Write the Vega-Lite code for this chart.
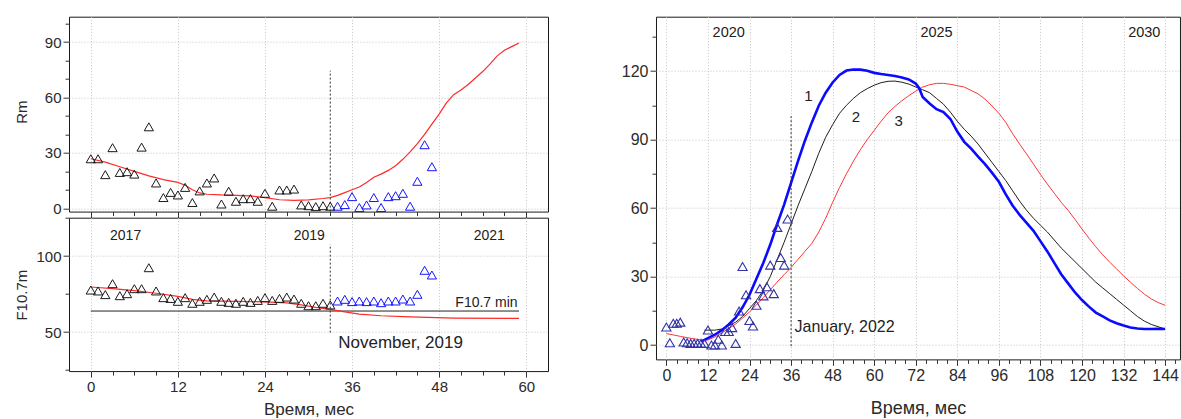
{
  "$schema": "https://vega.github.io/schema/vega-lite/v6.json",
  "padding": {"left": 14, "top": 15.7, "right": 2, "bottom": 2},
  "config": {
    "font": "Liberation Sans",
    "view": {"stroke": "#1a1a1a", "strokeWidth": 1},
    "axis": {
      "domain": false,
      "labelFont": "Liberation Sans",
      "labelColor": "#2b2b2b",
      "labelFontSize": 15,
      "labelPadding": 2,
      "titleFont": "Liberation Sans",
      "titleFontWeight": "normal",
      "titleColor": "#2b2b2b",
      "titleFontSize": 15,
      "tickColor": "#333333",
      "tickWidth": 1,
      "gridColor": "#c4c4c4",
      "gridDash": [1, 2],
      "gridWidth": 1,
      "labelOverlap": false,
      "labelFlush": false,
      "labelBound": false
    },
    "text": {"font": "Liberation Sans", "color": "#222222"}
  },
  "datasets": {
    "rmObs": [
      {"m": 0, "v": 26.8, "grp": "past"}, {"m": 1, "v": 26.8, "grp": "past"}, {"m": 2, "v": 18.2, "grp": "past"},
      {"m": 3, "v": 32.8, "grp": "past"}, {"m": 4, "v": 19.4, "grp": "past"}, {"m": 5, "v": 19.8, "grp": "past"},
      {"m": 6, "v": 18.5, "grp": "past"}, {"m": 7, "v": 33.1, "grp": "past"}, {"m": 8, "v": 44.1, "grp": "past"},
      {"m": 9, "v": 13.7, "grp": "past"}, {"m": 10, "v": 5.8, "grp": "past"}, {"m": 11, "v": 8.6, "grp": "past"},
      {"m": 12, "v": 7.2, "grp": "past"}, {"m": 13, "v": 11.3, "grp": "past"}, {"m": 14, "v": 3.1, "grp": "past"},
      {"m": 15, "v": 9.4, "grp": "past"}, {"m": 16, "v": 13.7, "grp": "past"}, {"m": 17, "v": 16.4, "grp": "past"},
      {"m": 18, "v": 2.3, "grp": "past"}, {"m": 19, "v": 9.2, "grp": "past"}, {"m": 20, "v": 3.8, "grp": "past"},
      {"m": 21, "v": 5.2, "grp": "past"}, {"m": 22, "v": 5.2, "grp": "past"}, {"m": 23, "v": 3.8, "grp": "past"},
      {"m": 24, "v": 8.1, "grp": "past"}, {"m": 25, "v": 1.1, "grp": "past"}, {"m": 26, "v": 9.9, "grp": "past"},
      {"m": 27, "v": 9.9, "grp": "past"}, {"m": 28, "v": 10.4, "grp": "past"}, {"m": 29, "v": 1.8, "grp": "past"},
      {"m": 30, "v": 1.4, "grp": "past"}, {"m": 31, "v": 0.9, "grp": "past"}, {"m": 32, "v": 1.4, "grp": "past"},
      {"m": 33, "v": 1.1, "grp": "past"},
      {"m": 34, "v": 1.1, "grp": "new"}, {"m": 35, "v": 2.0, "grp": "new"}, {"m": 36, "v": 6.3, "grp": "new"},
      {"m": 37, "v": 0.4, "grp": "new"}, {"m": 38, "v": 1.8, "grp": "new"}, {"m": 39, "v": 5.8, "grp": "new"},
      {"m": 40, "v": 0.4, "grp": "new"}, {"m": 41, "v": 6.3, "grp": "new"}, {"m": 42, "v": 6.8, "grp": "new"},
      {"m": 43, "v": 8.1, "grp": "new"}, {"m": 44, "v": 1.1, "grp": "new"}, {"m": 45, "v": 14.6, "grp": "new"},
      {"m": 46, "v": 34.4, "grp": "new"}, {"m": 47, "v": 22.5, "grp": "new"}
    ],
    "rmFit": [
      {"m": 0, "v": 26.8}, {"m": 2, "v": 25.0}, {"m": 4, "v": 22.5}, {"m": 6, "v": 20.0}, {"m": 8, "v": 17.5},
      {"m": 10, "v": 15.5}, {"m": 12, "v": 14.0}, {"m": 13, "v": 12.5}, {"m": 14, "v": 10.0}, {"m": 15, "v": 8.3},
      {"m": 16, "v": 7.6}, {"m": 18, "v": 7.2}, {"m": 20, "v": 7.0}, {"m": 22, "v": 6.7}, {"m": 24, "v": 5.8},
      {"m": 26, "v": 4.6}, {"m": 28, "v": 4.3}, {"m": 30, "v": 4.5}, {"m": 32, "v": 5.3}, {"m": 33, "v": 5.8},
      {"m": 34, "v": 7.0}, {"m": 35, "v": 8.5}, {"m": 36, "v": 10.0}, {"m": 37, "v": 11.5}, {"m": 38, "v": 14.0},
      {"m": 39, "v": 16.8}, {"m": 40, "v": 18.5}, {"m": 41, "v": 20.5}, {"m": 42, "v": 23.0}, {"m": 43, "v": 26.5},
      {"m": 44, "v": 30.5}, {"m": 45, "v": 35.0}, {"m": 46, "v": 40.0}, {"m": 47, "v": 45.5}, {"m": 48, "v": 51.0},
      {"m": 49, "v": 57.0}, {"m": 50, "v": 61.5}, {"m": 51, "v": 64.0}, {"m": 52, "v": 67.0}, {"m": 53, "v": 70.5},
      {"m": 54, "v": 74.0}, {"m": 55, "v": 78.0}, {"m": 56, "v": 82.5}, {"m": 57, "v": 85.5}, {"m": 58, "v": 87.5},
      {"m": 59, "v": 89.5}
    ],
    "rmMarks": [{"m": 33, "v": -1.8, "v2": 74.5}],
    "fObs": [
      {"m": 0, "v": 77.6, "grp": "past"}, {"m": 1, "v": 77.0, "grp": "past"}, {"m": 2, "v": 74.6, "grp": "past"},
      {"m": 3, "v": 81.8, "grp": "past"}, {"m": 4, "v": 73.9, "grp": "past"}, {"m": 5, "v": 75.2, "grp": "past"},
      {"m": 6, "v": 78.5, "grp": "past"}, {"m": 7, "v": 78.5, "grp": "past"}, {"m": 8, "v": 92.3, "grp": "past"},
      {"m": 9, "v": 77.0, "grp": "past"}, {"m": 10, "v": 72.6, "grp": "past"}, {"m": 11, "v": 72.1, "grp": "past"},
      {"m": 12, "v": 70.2, "grp": "past"}, {"m": 13, "v": 72.6, "grp": "past"}, {"m": 14, "v": 68.9, "grp": "past"},
      {"m": 15, "v": 70.2, "grp": "past"}, {"m": 16, "v": 71.5, "grp": "past"}, {"m": 17, "v": 73.0, "grp": "past"},
      {"m": 18, "v": 70.2, "grp": "past"}, {"m": 19, "v": 69.5, "grp": "past"}, {"m": 20, "v": 68.9, "grp": "past"},
      {"m": 21, "v": 70.2, "grp": "past"}, {"m": 22, "v": 69.5, "grp": "past"}, {"m": 23, "v": 70.8, "grp": "past"},
      {"m": 24, "v": 72.6, "grp": "past"}, {"m": 25, "v": 70.8, "grp": "past"}, {"m": 26, "v": 72.1, "grp": "past"},
      {"m": 27, "v": 73.0, "grp": "past"}, {"m": 28, "v": 71.7, "grp": "past"}, {"m": 29, "v": 68.9, "grp": "past"},
      {"m": 30, "v": 67.3, "grp": "past"}, {"m": 31, "v": 67.3, "grp": "past"}, {"m": 32, "v": 68.9, "grp": "past"},
      {"m": 33, "v": 67.8, "grp": "past"},
      {"m": 34, "v": 70.4, "grp": "new"}, {"m": 35, "v": 71.5, "grp": "new"}, {"m": 36, "v": 70.0, "grp": "new"},
      {"m": 37, "v": 70.4, "grp": "new"}, {"m": 38, "v": 70.0, "grp": "new"}, {"m": 39, "v": 70.4, "grp": "new"},
      {"m": 40, "v": 69.3, "grp": "new"}, {"m": 41, "v": 70.4, "grp": "new"}, {"m": 42, "v": 70.4, "grp": "new"},
      {"m": 43, "v": 71.7, "grp": "new"}, {"m": 44, "v": 70.4, "grp": "new"}, {"m": 45, "v": 74.8, "grp": "new"},
      {"m": 46, "v": 90.6, "grp": "new"}, {"m": 47, "v": 87.5, "grp": "new"}
    ],
    "fFit": [
      {"m": 0, "v": 79.6}, {"m": 3, "v": 78.5}, {"m": 6, "v": 77.2}, {"m": 9, "v": 75.5}, {"m": 12, "v": 73.5},
      {"m": 14, "v": 71.5}, {"m": 16, "v": 70.5}, {"m": 20, "v": 70.2}, {"m": 24, "v": 69.8}, {"m": 27, "v": 69.2},
      {"m": 29, "v": 67.8}, {"m": 31, "v": 66.2}, {"m": 33, "v": 64.9}, {"m": 35, "v": 63.2}, {"m": 37, "v": 61.8},
      {"m": 40, "v": 60.7}, {"m": 44, "v": 59.9}, {"m": 50, "v": 59.2}, {"m": 59, "v": 59.0}
    ],
    "fMin": [{"m": 0, "m2": 59, "v": 63.8}],
    "fDash": [{"m": 33, "v": 49.6, "v2": 107.7}],
    "fYears": [
      {"m": 4.8, "v": 113.2, "label": "2017"},
      {"m": 30.1, "v": 113.2, "label": "2019"},
      {"m": 54.9, "v": 113.2, "label": "2021"}
    ],
    "fMinLabel": [{"m": 58.8, "v": 68.9, "label": "F10.7 min"}],
    "fNote": [{"m": 34.1, "v": 43, "label": "November, 2019"}],
    "cycle": [
      {"curve": "3", "m": 0, "v": 5.0}, {"curve": "3", "m": 2, "v": 4.4}, {"curve": "3", "m": 4, "v": 3.8},
      {"curve": "3", "m": 6, "v": 3.2}, {"curve": "3", "m": 8, "v": 2.7}, {"curve": "3", "m": 10, "v": 2.2},
      {"curve": "3", "m": 12, "v": 2.2}, {"curve": "3", "m": 14, "v": 3.5}, {"curve": "3", "m": 16, "v": 5.3},
      {"curve": "3", "m": 18, "v": 7.2}, {"curve": "3", "m": 20, "v": 9.2}, {"curve": "3", "m": 22, "v": 11.8},
      {"curve": "3", "m": 24, "v": 14.5}, {"curve": "3", "m": 26, "v": 17.5}, {"curve": "3", "m": 28, "v": 20.8},
      {"curve": "3", "m": 30, "v": 24.2}, {"curve": "3", "m": 32, "v": 27.6}, {"curve": "3", "m": 34, "v": 30.8},
      {"curve": "3", "m": 36, "v": 34.0}, {"curve": "3", "m": 38, "v": 37.5}, {"curve": "3", "m": 40, "v": 41.0},
      {"curve": "3", "m": 42, "v": 44.5}, {"curve": "3", "m": 44, "v": 49.5}, {"curve": "3", "m": 46, "v": 55.5},
      {"curve": "3", "m": 48, "v": 62.5}, {"curve": "3", "m": 50, "v": 69.0}, {"curve": "3", "m": 52, "v": 75.0},
      {"curve": "3", "m": 54, "v": 80.5}, {"curve": "3", "m": 56, "v": 85.5}, {"curve": "3", "m": 58, "v": 90.0},
      {"curve": "3", "m": 60, "v": 94.0}, {"curve": "3", "m": 62, "v": 98.0}, {"curve": "3", "m": 64, "v": 101.7},
      {"curve": "3", "m": 66, "v": 104.5}, {"curve": "3", "m": 68, "v": 107.0}, {"curve": "3", "m": 70, "v": 109.2},
      {"curve": "3", "m": 72, "v": 111.2}, {"curve": "3", "m": 74, "v": 113.0}, {"curve": "3", "m": 76, "v": 114.0},
      {"curve": "3", "m": 78, "v": 114.6}, {"curve": "3", "m": 80, "v": 114.6}, {"curve": "3", "m": 82, "v": 114.2},
      {"curve": "3", "m": 84, "v": 113.6}, {"curve": "3", "m": 86, "v": 113.0}, {"curve": "3", "m": 88, "v": 111.5},
      {"curve": "3", "m": 90, "v": 110.0}, {"curve": "3", "m": 92, "v": 107.7}, {"curve": "3", "m": 94, "v": 104.7},
      {"curve": "3", "m": 96, "v": 101.5}, {"curve": "3", "m": 98, "v": 97.5}, {"curve": "3", "m": 100, "v": 92.5},
      {"curve": "3", "m": 102, "v": 88.0}, {"curve": "3", "m": 104, "v": 83.7}, {"curve": "3", "m": 106, "v": 79.2},
      {"curve": "3", "m": 108, "v": 74.7}, {"curve": "3", "m": 110, "v": 70.5}, {"curve": "3", "m": 112, "v": 66.5},
      {"curve": "3", "m": 114, "v": 62.5}, {"curve": "3", "m": 116, "v": 59.0}, {"curve": "3", "m": 118, "v": 55.0},
      {"curve": "3", "m": 120, "v": 50.8}, {"curve": "3", "m": 122, "v": 46.8}, {"curve": "3", "m": 124, "v": 43.0},
      {"curve": "3", "m": 126, "v": 39.5}, {"curve": "3", "m": 128, "v": 36.3}, {"curve": "3", "m": 130, "v": 33.3},
      {"curve": "3", "m": 132, "v": 30.3}, {"curve": "3", "m": 134, "v": 27.5}, {"curve": "3", "m": 136, "v": 24.8},
      {"curve": "3", "m": 138, "v": 22.3}, {"curve": "3", "m": 140, "v": 20.2}, {"curve": "3", "m": 142, "v": 18.6},
      {"curve": "3", "m": 144, "v": 17.4},
      {"curve": "2", "m": 11, "v": 6.5}, {"curve": "2", "m": 12, "v": 6.5}, {"curve": "2", "m": 14, "v": 6.5},
      {"curve": "2", "m": 16, "v": 7.0}, {"curve": "2", "m": 18, "v": 8.5}, {"curve": "2", "m": 20, "v": 10.0},
      {"curve": "2", "m": 22, "v": 12.5}, {"curve": "2", "m": 24, "v": 16.0}, {"curve": "2", "m": 26, "v": 19.5},
      {"curve": "2", "m": 28, "v": 24.0}, {"curve": "2", "m": 30, "v": 30.0}, {"curve": "2", "m": 32, "v": 37.5},
      {"curve": "2", "m": 34, "v": 45.0}, {"curve": "2", "m": 36, "v": 53.0}, {"curve": "2", "m": 38, "v": 61.0},
      {"curve": "2", "m": 40, "v": 68.5}, {"curve": "2", "m": 42, "v": 76.0}, {"curve": "2", "m": 44, "v": 84.0},
      {"curve": "2", "m": 46, "v": 91.0}, {"curve": "2", "m": 48, "v": 96.5}, {"curve": "2", "m": 50, "v": 101.5},
      {"curve": "2", "m": 52, "v": 105.0}, {"curve": "2", "m": 54, "v": 108.0}, {"curve": "2", "m": 56, "v": 110.5},
      {"curve": "2", "m": 58, "v": 112.3}, {"curve": "2", "m": 60, "v": 113.8}, {"curve": "2", "m": 62, "v": 114.9},
      {"curve": "2", "m": 64, "v": 115.5}, {"curve": "2", "m": 66, "v": 115.6}, {"curve": "2", "m": 68, "v": 115.1},
      {"curve": "2", "m": 70, "v": 114.3}, {"curve": "2", "m": 72, "v": 113.0}, {"curve": "2", "m": 74, "v": 111.8},
      {"curve": "2", "m": 76, "v": 110.5}, {"curve": "2", "m": 78, "v": 108.0}, {"curve": "2", "m": 80, "v": 105.5},
      {"curve": "2", "m": 82, "v": 102.0}, {"curve": "2", "m": 84, "v": 98.0}, {"curve": "2", "m": 86, "v": 94.5},
      {"curve": "2", "m": 88, "v": 91.5}, {"curve": "2", "m": 90, "v": 88.0}, {"curve": "2", "m": 92, "v": 84.0},
      {"curve": "2", "m": 94, "v": 80.0}, {"curve": "2", "m": 96, "v": 76.0}, {"curve": "2", "m": 98, "v": 72.0},
      {"curve": "2", "m": 100, "v": 67.5}, {"curve": "2", "m": 102, "v": 63.0}, {"curve": "2", "m": 104, "v": 59.0},
      {"curve": "2", "m": 106, "v": 55.5}, {"curve": "2", "m": 108, "v": 52.5}, {"curve": "2", "m": 110, "v": 49.5},
      {"curve": "2", "m": 112, "v": 46.0}, {"curve": "2", "m": 114, "v": 42.5}, {"curve": "2", "m": 116, "v": 39.5},
      {"curve": "2", "m": 118, "v": 36.5}, {"curve": "2", "m": 120, "v": 33.5}, {"curve": "2", "m": 122, "v": 30.5},
      {"curve": "2", "m": 124, "v": 27.5}, {"curve": "2", "m": 126, "v": 25.0}, {"curve": "2", "m": 128, "v": 22.5},
      {"curve": "2", "m": 130, "v": 20.0}, {"curve": "2", "m": 132, "v": 17.5}, {"curve": "2", "m": 134, "v": 15.0},
      {"curve": "2", "m": 136, "v": 12.5}, {"curve": "2", "m": 138, "v": 10.5}, {"curve": "2", "m": 140, "v": 9.0},
      {"curve": "2", "m": 142, "v": 8.0}, {"curve": "2", "m": 144, "v": 7.0},
      {"curve": "1", "m": 10, "v": 1.5}, {"curve": "1", "m": 12, "v": 3.0}, {"curve": "1", "m": 14, "v": 4.5},
      {"curve": "1", "m": 16, "v": 6.5}, {"curve": "1", "m": 18, "v": 9.0}, {"curve": "1", "m": 20, "v": 12.0},
      {"curve": "1", "m": 22, "v": 16.5}, {"curve": "1", "m": 24, "v": 22.0}, {"curve": "1", "m": 26, "v": 29.0},
      {"curve": "1", "m": 28, "v": 36.0}, {"curve": "1", "m": 30, "v": 44.0}, {"curve": "1", "m": 32, "v": 53.0},
      {"curve": "1", "m": 34, "v": 61.5}, {"curve": "1", "m": 36, "v": 71.0}, {"curve": "1", "m": 38, "v": 80.5},
      {"curve": "1", "m": 40, "v": 89.5}, {"curve": "1", "m": 42, "v": 97.5}, {"curve": "1", "m": 44, "v": 104.8},
      {"curve": "1", "m": 46, "v": 110.5}, {"curve": "1", "m": 48, "v": 115.0}, {"curve": "1", "m": 50, "v": 118.3},
      {"curve": "1", "m": 52, "v": 120.2}, {"curve": "1", "m": 54, "v": 120.7}, {"curve": "1", "m": 56, "v": 120.6},
      {"curve": "1", "m": 58, "v": 120.1}, {"curve": "1", "m": 60, "v": 119.2}, {"curve": "1", "m": 62, "v": 118.7},
      {"curve": "1", "m": 64, "v": 118.3}, {"curve": "1", "m": 66, "v": 117.8}, {"curve": "1", "m": 68, "v": 117.2},
      {"curve": "1", "m": 70, "v": 116.3}, {"curve": "1", "m": 72, "v": 114.5}, {"curve": "1", "m": 73, "v": 112.5},
      {"curve": "1", "m": 74, "v": 108.6}, {"curve": "1", "m": 76, "v": 105.8}, {"curve": "1", "m": 78, "v": 103.3},
      {"curve": "1", "m": 80, "v": 102.0}, {"curve": "1", "m": 82, "v": 99.0}, {"curve": "1", "m": 84, "v": 93.5},
      {"curve": "1", "m": 86, "v": 89.0}, {"curve": "1", "m": 88, "v": 86.0}, {"curve": "1", "m": 90, "v": 82.5},
      {"curve": "1", "m": 92, "v": 79.2}, {"curve": "1", "m": 94, "v": 75.5}, {"curve": "1", "m": 96, "v": 71.5},
      {"curve": "1", "m": 98, "v": 66.0}, {"curve": "1", "m": 100, "v": 61.0}, {"curve": "1", "m": 102, "v": 57.0},
      {"curve": "1", "m": 104, "v": 53.5}, {"curve": "1", "m": 106, "v": 50.0}, {"curve": "1", "m": 108, "v": 45.5},
      {"curve": "1", "m": 110, "v": 41.0}, {"curve": "1", "m": 112, "v": 36.0}, {"curve": "1", "m": 114, "v": 31.0},
      {"curve": "1", "m": 116, "v": 27.0}, {"curve": "1", "m": 118, "v": 23.0}, {"curve": "1", "m": 120, "v": 19.7},
      {"curve": "1", "m": 122, "v": 16.8}, {"curve": "1", "m": 124, "v": 14.2}, {"curve": "1", "m": 126, "v": 12.5},
      {"curve": "1", "m": 128, "v": 10.8}, {"curve": "1", "m": 130, "v": 9.5}, {"curve": "1", "m": 132, "v": 8.5},
      {"curve": "1", "m": 134, "v": 7.7}, {"curve": "1", "m": 136, "v": 7.2}, {"curve": "1", "m": 138, "v": 7.0},
      {"curve": "1", "m": 140, "v": 7.0}, {"curve": "1", "m": 142, "v": 7.1}, {"curve": "1", "m": 144, "v": 7.0}
    ],
    "cycleObs": [
      {"m": 0, "v": 7.9}, {"m": 1, "v": 1.0}, {"m": 2, "v": 9.5}, {"m": 3, "v": 9.5}, {"m": 4, "v": 10.0},
      {"m": 5, "v": 1.3}, {"m": 6, "v": 1.0}, {"m": 7, "v": 0.7}, {"m": 8, "v": 0.7}, {"m": 9, "v": 0.7},
      {"m": 10, "v": 0.7}, {"m": 11, "v": 0.7}, {"m": 12, "v": 6.6}, {"m": 13, "v": 0.0}, {"m": 14, "v": 0.0},
      {"m": 15, "v": 2.5}, {"m": 16, "v": 0.0}, {"m": 17, "v": 5.9}, {"m": 18, "v": 5.9}, {"m": 19, "v": 7.6},
      {"m": 20, "v": 0.7}, {"m": 21, "v": 14.9}, {"m": 22, "v": 34.4}, {"m": 23, "v": 22.0}, {"m": 24, "v": 10.7},
      {"m": 25, "v": 8.3}, {"m": 26, "v": 17.4}, {"m": 27, "v": 24.7}, {"m": 28, "v": 21.5}, {"m": 29, "v": 25.5},
      {"m": 30, "v": 35.0}, {"m": 31, "v": 22.5}, {"m": 32, "v": 51.5}, {"m": 33, "v": 38.3}, {"m": 34, "v": 35.0},
      {"m": 35, "v": 55.2}
    ],
    "cycleDash": [{"m": 36, "v": -0.5, "v2": 100.5}],
    "cycleYears": [
      {"m": 18, "v": 136.7, "label": "2020"},
      {"m": 78, "v": 136.7, "label": "2025"},
      {"m": 138, "v": 136.7, "label": "2030"}
    ],
    "curveTags": [
      {"m": 41, "v": 108.9, "label": "1"},
      {"m": 54.7, "v": 99.8, "label": "2"},
      {"m": 67.1, "v": 98, "label": "3"}
    ],
    "cycleNote": [{"m": 37, "v": 7.9, "label": "January, 2022"}]
  },
  "hconcat": [
    {
      "vconcat": [
        {
          "width": 479,
          "height": 194.9,
          "encoding": {
            "x": {
              "field": "m", "type": "quantitative",
              "scale": {"domain": [-3, 63], "nice": false, "zero": false},
              "axis": {
                "values": [0, 3, 6, 9, 12, 15, 18, 21, 24, 27, 30, 33, 36, 39, 42, 45, 48, 51, 54, 57, 60],
                "labels": false, "title": null,
                "tickSize": {"condition": {"test": "datum.value % 12 === 0", "value": 6}, "value": 4},
                "gridOpacity": {"condition": {"test": "datum.value % 12 === 0", "value": 1}, "value": 0}
              }
            },
            "y": {
              "field": "v", "type": "quantitative",
              "scale": {"domain": [-1.8, 103.7], "nice": false, "zero": false},
              "axis": {
                "values": [0, 10, 20, 30, 40, 50, 60, 70, 80, 90, 100],
                "labelExpr": "datum.value % 30 === 0 ? datum.label : ''",
                "tickSize": {"condition": {"test": "datum.value % 30 === 0", "value": 6}, "value": 4},
                "gridOpacity": {"condition": {"test": "datum.value % 30 === 0", "value": 1}, "value": 0},
                "title": "Rm", "titleX": -47.5, "titleY": 95, "titleBaseline": "middle"
              }
            }
          },
          "layer": [
            {"data": {"name": "rmFit"}, "mark": {"type": "line", "color": "#ff2a2a", "strokeWidth": 1.2}},
            {"data": {"name": "rmMarks"}, "mark": {"type": "rule", "color": "#333333", "strokeDash": [2, 2], "strokeWidth": 1}, "encoding": {"y2": {"field": "v2"}}},
            {
              "data": {"name": "rmObs"},
              "mark": {"type": "point", "shape": "triangle-up", "filled": false, "size": 85, "strokeWidth": 1, "opacity": 1},
              "encoding": {"color": {"field": "grp", "type": "nominal", "scale": {"domain": ["past", "new"], "range": ["#1a1a1a", "#1414ff"]}, "legend": null}}
            }
          ]
        },
        {
          "width": 479,
          "height": 153.4,
          "encoding": {
            "x": {
              "field": "m", "type": "quantitative",
              "scale": {"domain": [-3, 63], "nice": false, "zero": false},
              "axis": {
                "values": [0, 3, 6, 9, 12, 15, 18, 21, 24, 27, 30, 33, 36, 39, 42, 45, 48, 51, 54, 57, 60],
                "labelExpr": "datum.value % 12 === 0 ? datum.label : ''",
                "tickSize": {"condition": {"test": "datum.value % 12 === 0", "value": 6}, "value": 4},
                "gridOpacity": {"condition": {"test": "datum.value % 12 === 0", "value": 1}, "value": 0},
                "title": "Время, мес", "titleFontSize": 17, "titleY": 38, "titleBaseline": "middle"
              }
            },
            "y": {
              "field": "v", "type": "quantitative",
              "scale": {"domain": [24.3, 125.2], "nice": false, "zero": false},
              "axis": {
                "values": [25, 50, 75, 100, 125],
                "labelExpr": "datum.value % 50 === 0 ? datum.label : ''",
                "tickSize": {"condition": {"test": "datum.value % 50 === 0", "value": 6}, "value": 4},
                "gridOpacity": {"condition": {"test": "datum.value % 50 === 0", "value": 1}, "value": 0},
                "title": "F10.7m", "titleX": -47.5, "titleY": 77, "titleBaseline": "middle"
              }
            }
          },
          "layer": [
            {"data": {"name": "fMin"}, "mark": {"type": "rule", "color": "#222222", "strokeWidth": 1}, "encoding": {"x2": {"field": "m2"}}},
            {"data": {"name": "fFit"}, "mark": {"type": "line", "color": "#ff2a2a", "strokeWidth": 1.2}},
            {"data": {"name": "fDash"}, "mark": {"type": "rule", "color": "#333333", "strokeDash": [2, 2], "strokeWidth": 1}, "encoding": {"y2": {"field": "v2"}}},
            {
              "data": {"name": "fObs"},
              "mark": {"type": "point", "shape": "triangle-up", "filled": false, "size": 85, "strokeWidth": 1, "opacity": 1},
              "encoding": {"color": {"field": "grp", "type": "nominal", "scale": {"domain": ["past", "new"], "range": ["#1a1a1a", "#1414ff"]}, "legend": null}}
            },
            {"data": {"name": "fYears"}, "mark": {"type": "text", "fontSize": 14, "align": "center", "baseline": "middle"}, "encoding": {"text": {"field": "label"}}},
            {"data": {"name": "fMinLabel"}, "mark": {"type": "text", "fontSize": 14, "align": "right", "baseline": "middle"}, "encoding": {"text": {"field": "label"}}},
            {"data": {"name": "fNote"}, "mark": {"type": "text", "fontSize": 17, "align": "left", "baseline": "middle"}, "encoding": {"text": {"field": "label"}}}
          ]
        }
      ],
      "spacing": 6,
      "bounds": "flush"
    },
    {
      "width": 524,
      "height": 342.7,
      "encoding": {
        "x": {
          "field": "m", "type": "quantitative",
          "scale": {"domain": [-3, 148.3], "nice": false, "zero": false},
          "axis": {
            "values": [0, 3, 6, 9, 12, 15, 18, 21, 24, 27, 30, 33, 36, 39, 42, 45, 48, 51, 54, 57, 60, 63, 66, 69, 72, 75, 78, 81, 84, 87, 90, 93, 96, 99, 102, 105, 108, 111, 114, 117, 120, 123, 126, 129, 132, 135, 138, 141, 144, 147],
            "labelExpr": "datum.value % 12 === 0 ? datum.label : ''",
            "labelFontSize": 16,
            "tickSize": {"condition": {"test": "datum.value % 12 === 0", "value": 6}, "value": 4},
            "gridOpacity": {"condition": {"test": "datum.value % 12 === 0", "value": 1}, "value": 0},
            "title": "Время, мес", "titleFontSize": 18, "titleY": 49.6, "titleBaseline": "middle"
          }
        },
        "y": {
          "field": "v", "type": "quantitative",
          "scale": {"domain": [-6.3, 143.8], "nice": false, "zero": false},
          "axis": {
            "values": [0, 15, 30, 45, 60, 75, 90, 105, 120, 135],
            "labelExpr": "datum.value % 30 === 0 ? datum.label : ''",
            "labelFontSize": 16,
            "tickSize": {"condition": {"test": "datum.value % 30 === 0", "value": 6}, "value": 4},
            "gridOpacity": {"condition": {"test": "datum.value % 30 === 0", "value": 1}, "value": 0},
            "title": null
          }
        }
      },
      "layer": [
        {"data": {"name": "cycle"}, "transform": [{"filter": "datum.curve === '3'"}], "mark": {"type": "line", "color": "#ff3434", "strokeWidth": 1}},
        {"data": {"name": "cycle"}, "transform": [{"filter": "datum.curve === '2'"}], "mark": {"type": "line", "color": "#1e1e1e", "strokeWidth": 1}},
        {"data": {"name": "cycle"}, "transform": [{"filter": "datum.curve === '1'"}], "mark": {"type": "line", "color": "#0a0aff", "strokeWidth": 2.6}},
        {"data": {"name": "cycleDash"}, "mark": {"type": "rule", "color": "#333333", "strokeDash": [2, 2], "strokeWidth": 1}, "encoding": {"y2": {"field": "v2"}}},
        {"data": {"name": "cycleObs"}, "mark": {"type": "point", "shape": "triangle-up", "filled": false, "size": 85, "strokeWidth": 1.1, "color": "#3232a6", "opacity": 1}},
        {"data": {"name": "cycleYears"}, "mark": {"type": "text", "fontSize": 14.5, "align": "center", "baseline": "middle"}, "encoding": {"text": {"field": "label"}}},
        {"data": {"name": "curveTags"}, "mark": {"type": "text", "fontSize": 15, "align": "center", "baseline": "middle"}, "encoding": {"text": {"field": "label"}}},
        {"data": {"name": "cycleNote"}, "mark": {"type": "text", "fontSize": 16, "align": "left", "baseline": "middle"}, "encoding": {"text": {"field": "label"}}}
      ]
    }
  ],
  "spacing": 71,
  "bounds": "full"
}
